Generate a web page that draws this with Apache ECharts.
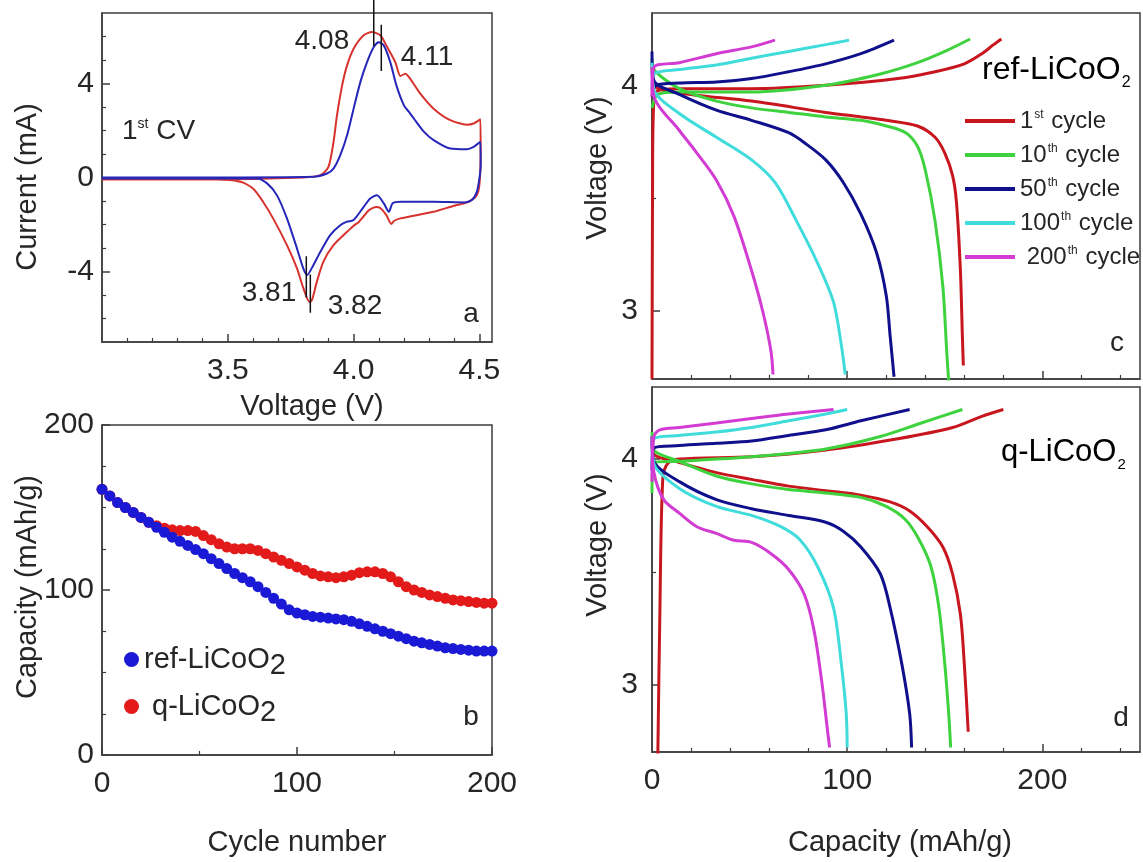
<!DOCTYPE html>
<html><head><meta charset="utf-8">
<script src="https://cdn.jsdelivr.net/npm/echarts@6/dist/echarts.min.js"></script>
<style>html,body{margin:0;padding:0;background:#fff}#chart{width:1143px;height:862px}</style>
</head><body><div id="chart"></div>
<script>
// ---------- Panel a : 1st CV ----------
const cvRefV = [3.00,3.40,3.84,3.894,3.92,3.947,3.974,4.00,4.027,4.053,4.08,4.10,4.12,4.146,4.17,4.20,4.22,4.24,4.28,4.318,4.384,4.45,4.477,4.504,
  4.505,4.50,4.49,4.47,4.44,4.318,4.186,4.155,4.14,4.12,4.093,4.066,4.04,4.00,3.974,3.947,3.907,3.868,3.84,3.815,3.80,3.775,3.735,3.695,3.656,3.616,3.00];
const cvRefI = [0,0,0.03,0.17,0.38,0.95,1.8,2.93,4.07,4.9,5.55,5.76,5.62,4.9,3.92,3.07,2.79,2.5,1.94,1.59,1.23,1.2,1.3,1.52,
  0.5,-0.04,-0.6,-0.96,-1.06,-1.03,-1.03,-1.1,-1.46,-1.1,-0.75,-0.89,-1.25,-1.81,-1.88,-2.03,-2.45,-3.16,-3.73,-4.15,-3.87,-3.02,-1.74,-0.75,-0.25,-0.04,-0.04];
const cvQV = [3.00,3.40,3.80,3.868,3.90,3.92,3.934,3.954,3.974,4.00,4.04,4.073,4.106,4.13,4.166,4.186,4.206,4.225,4.265,4.318,4.384,4.45,4.477,4.504,
  4.505,4.50,4.49,4.47,4.44,4.40,4.318,4.186,4.16,4.15,4.13,4.106,4.09,4.06,4.04,4.02,4.00,3.974,3.92,3.88,3.854,3.835,3.825,3.80,3.775,3.735,3.68,3.64,3.60,3.55,3.457,3.00];
const cvQI = [-0.08,-0.08,0,0.1,0.45,1.5,2.65,3.9,4.77,5.48,6.05,6.19,6.05,5.62,4.9,4.32,4.42,4.2,3.57,2.93,2.44,2.25,2.3,2.48,
  1.0,-0.3,-0.75,-0.95,-1.1,-1.2,-1.46,-1.74,-1.85,-1.98,-1.6,-1.3,-1.25,-1.4,-1.65,-1.9,-2.05,-2.31,-2.88,-3.58,-4.43,-5.2,-5.3,-4.7,-3.87,-2.88,-1.74,-1.03,-0.47,-0.18,-0.08,-0.08];
const peakMarkV = [4.08, 4.11, 3.812, 3.828];
const peakMarkTop = [7.55, 6.5, -3.35, -4.13];
const peakMarkBottom = [5.6, 4.53, -5.11, -5.75];

// ---------- Panel b : capacity vs cycle ----------
const cycles = [0,4,8,12,16,20,24,28,32,36,40,44,48,52,56,60,64,68,72,76,80,84,88,92,96,100,104,108,112,116,120,124,128,132,136,140,144,148,152,156,160,164,168,172,176,180,184,188,192,196,200];
const capRef = [161,157,153,150,147,144,141,138,135,132,129.5,127,124.5,122,119,116,113,110,107.5,105,102,98.5,95,91.5,88,86,85,84,83.5,83,82.5,82,81,79.5,78,76.5,75,73.5,72,70.5,69,68,67,66,65,64.5,64,63.5,63,63,63];
const capQ = [161,157,153,150,147,144,141,139,137.5,136.5,136,136,135.5,133,130.5,128,126,125,125,125,124,122,120,118,116,114,112,110,108.5,108,107.5,108,109,110.5,111,111,110,108,105,102,100,98.5,97,96,95,94,93.5,93,92.5,92,92];

// ---------- Panels c, d : charge / discharge [capacity, voltage] ----------
const cycleNames = ['1st cycle','10th cycle','50th cycle','100th cycle','200th cycle'];
const refChg1 = [[0,2.70],[0.3,3.60],[0.6,3.85],[2,3.97],[14,3.985],[51,3.985],[89,4.0],[126,4.03],[145,4.06],[160,4.095],[169,4.14],[175,4.18],[179,4.205]];
const refDis1 = [[0,4.10],[1,4.0],[14,3.966],[51,3.93],[89,3.88],[107,3.86],[120,3.845],[136,3.82],[145,3.77],[150,3.70],[154,3.60],[156,3.48],[158,3.18],[159,2.89],[159.5,2.76]];
const refChg10 = [[0,3.90],[3,3.96],[14,3.97],[51,3.97],[89,4.0],[117,4.05],[136,4.1],[150,4.15],[163,4.205]];
const refDis10 = [[0,4.12],[1,4.07],[14,3.985],[33,3.93],[51,3.90],[70,3.88],[89,3.86],[107,3.845],[120,3.82],[130,3.79],[136,3.73],[140,3.625],[145,3.40],[149,3.11],[151,2.82],[152,2.69]];
const refChg50 = [[0,3.95],[2,4.0],[14,4.01],[33,4.015],[51,4.03],[70,4.06],[89,4.095],[107,4.14],[124,4.2]];
const refDis50 = [[0,4.15],[1,4.02],[14,3.96],[33,3.89],[51,3.845],[70,3.79],[79,3.74],[89,3.67],[98,3.57],[107,3.43],[115,3.26],[120,3.07],[122,2.89],[124,2.71]];
const refChg100 = [[0,3.98],[1,4.05],[14,4.07],[33,4.09],[51,4.12],[70,4.15],[89,4.18],[101,4.2]];
const refDis100 = [[0,4.10],[1,3.98],[14,3.875],[33,3.77],[51,3.67],[63,3.57],[74,3.40],[85,3.21],[93,3.04],[97,2.85],[99,2.72]];
const refChg200 = [[0,3.95],[1,4.08],[14,4.10],[33,4.14],[51,4.17],[63,4.2]];
const refDis200 = [[0,4.08],[1,3.95],[14,3.80],[23,3.70],[33,3.58],[42,3.42],[51,3.18],[57,2.99],[61,2.82],[62,2.72]];

const qChg1 = [[3,2.69],[4,3.30],[5.5,3.91],[8,3.98],[14,4.0],[51,4.01],[89,4.04],[126,4.09],[154,4.14],[169,4.19],[180,4.22]];
const qDis1 = [[0,4.08],[1,4.02],[14,3.985],[33,3.94],[51,3.91],[70,3.88],[89,3.86],[107,3.84],[122,3.81],[132,3.77],[141,3.70],[149,3.61],[154,3.49],[158,3.31],[160,3.09],[162,2.79]];
const qChg10 = [[0,3.85],[1,3.985],[14,3.99],[51,4.01],[89,4.045],[117,4.10],[138,4.16],[159,4.22]];
const qDis10 = [[0,4.12],[1,4.04],[14,3.99],[33,3.925],[51,3.89],[70,3.865],[89,3.85],[107,3.83],[120,3.79],[130,3.73],[137,3.64],[143,3.52],[147,3.34],[150,3.09],[152,2.87],[153,2.72]];
const qChg50 = [[0,3.95],[1,4.05],[14,4.06],[33,4.07],[51,4.08],[70,4.105],[89,4.13],[107,4.17],[132,4.22]];
const qDis50 = [[0,4.10],[1,3.99],[14,3.90],[33,3.82],[51,3.78],[70,3.75],[89,3.72],[98,3.68],[107,3.61],[117,3.49],[122,3.34],[128,3.09],[132,2.87],[133,2.72]];
const qChg100 = [[0,3.98],[1,4.09],[14,4.105],[33,4.12],[51,4.14],[70,4.17],[89,4.2],[100,4.22]];
const qDis100 = [[0,4.10],[1,3.98],[14,3.87],[33,3.79],[51,3.75],[66,3.70],[76,3.64],[85,3.52],[93,3.34],[97,3.09],[99.5,2.87],[100,2.72]];
const qChg200 = [[0,3.90],[1,4.1],[4,4.13],[14,4.14],[33,4.16],[51,4.18],[70,4.2],[93,4.22]];
const qDis200 = [[0,4.10],[1,3.94],[6,3.82],[14,3.76],[23,3.70],[33,3.67],[42,3.64],[51,3.63],[61,3.58],[70,3.51],[78,3.40],[83,3.24],[87,3.01],[90,2.79],[91,2.72]];

// ---------- Tick values ----------
const aXLabels = [3.5, 4.0, 4.5];
const aXMinor = [3.1,3.2,3.3,3.4,3.6,3.7,3.8,3.9,4.1,4.2,4.3,4.4];
const aYLabels = [-4, 0, 4];
const aYMinor = [-6,-5,-3,-2,-1,1,2,3,5,6];
const bLabels = [0, 100, 200];
const bXMinor = [50, 150];
const bYMinor = [25, 50, 75, 125, 150, 175];
const cdXLabels = [0, 100, 200];
const cdXMinor = [20,40,60,80,120,140,160,180,220,240];
const cdYLabels = [3, 4];
const cdYMinor = [3.5];

// ---------- Chart ----------
const FONT = "'Liberation Sans', Arial, sans-serif";
const TXT = '#262626';
const AX = '#3c3c3c';
const cycleColors = ['#c8161e', '#3ed23e', '#10108c', '#40dcdc', '#d23cd2'];

const grids = [
  {left: 102, top: 13, width: 390, height: 329},
  {left: 102, top: 425, width: 390, height: 330},
  {left: 652, top: 13, width: 488, height: 366},
  {left: 652, top: 387, width: 488, height: 365}
].map(g => Object.assign({show: true, borderColor: AX, borderWidth: 1.5, backgroundColor: 'transparent'}, g));

function axisMain(grid, pos, min, max, labels, ticks, showLabels, fmt, margin) {
  return {
    type: 'value', gridIndex: grid, position: pos, min, max,
    axisLine: {show: true, onZero: false, lineStyle: {color: AX, width: 1.5}},
    splitLine: {show: false},
    axisTick: {show: true, inside: true, length: 8, customValues: ticks, lineStyle: {color: AX, width: 1.5}},
    axisLabel: {show: showLabels, customValues: labels, fontFamily: FONT, fontSize: 30, color: TXT, margin: margin,
      formatter: fmt || (v => String(v)), showMinLabel: true, showMaxLabel: true}
  };
}
function axisMinor(grid, pos, min, max, ticks) {
  return {
    type: 'value', gridIndex: grid, position: pos, offset: 0, min, max,
    axisLine: {show: false, onZero: false}, splitLine: {show: false},
    axisTick: {show: true, inside: true, length: 4, customValues: ticks, lineStyle: {color: AX, width: 1.2}},
    axisLabel: {show: false, customValues: ticks}
  };
}

const xAxes = [
  axisMain(0, 'bottom', 3.0, 4.55, aXLabels, aXLabels, true, v => v.toFixed(1), 14),
  axisMinor(0, 'bottom', 3.0, 4.55, aXMinor),
  axisMain(1, 'bottom', 0, 200, bLabels, bLabels, true, null, 14),
  axisMinor(1, 'bottom', 0, 200, bXMinor),
  axisMain(2, 'bottom', 0, 250, cdXLabels, [100, 200], false, null, 14),
  axisMinor(2, 'bottom', 0, 250, cdXMinor),
  axisMain(3, 'bottom', 0, 250, cdXLabels, [100, 200], true, null, 14),
  axisMinor(3, 'bottom', 0, 250, cdXMinor)
];
const yAxes = [
  axisMain(0, 'left', -7, 7, aYLabels, aYLabels, true, null, 8),
  axisMinor(0, 'left', -7, 7, aYMinor),
  axisMain(1, 'left', 0, 200, bLabels, bLabels, true, null, 8),
  axisMinor(1, 'left', 0, 200, bYMinor),
  axisMain(2, 'left', 2.7, 4.32, cdYLabels, cdYLabels, true, null, 14),
  axisMinor(2, 'left', 2.7, 4.32, cdYMinor),
  axisMain(3, 'left', 2.7, 4.32, cdYLabels, cdYLabels, true, null, 14),
  axisMinor(3, 'left', 2.7, 4.32, cdYMinor)
];

const zip = (a, b) => a.map((v, i) => [v, b[i]]);
const series = [];
// panel a
series.push({type: 'line', name: 'CV q', xAxisIndex: 0, yAxisIndex: 0, data: zip(cvQV, cvQI), showSymbol: false, smooth: 0.25,
  lineStyle: {color: '#d8322e', width: 2}, itemStyle: {color: '#d8322e'}, z: 3});
series.push({type: 'line', name: 'CV ref', xAxisIndex: 0, yAxisIndex: 0, data: zip(cvRefV, cvRefI), showSymbol: false, smooth: 0.25,
  lineStyle: {color: '#2626b8', width: 2}, itemStyle: {color: '#2626b8'}, z: 4});
peakMarkV.forEach((v, i) => {
  series.push({type: 'line', name: 'mark' + i, xAxisIndex: 0, yAxisIndex: 0, clip: false, showSymbol: false,
    data: [[v, peakMarkTop[i]], [v, peakMarkBottom[i]]], lineStyle: {color: '#111', width: 1.5}, itemStyle: {color: '#111'}, z: 6});
});
// panel b
series.push({type: 'scatter', name: 'q-LiCoO2', xAxisIndex: 2, yAxisIndex: 2, data: zip(cycles, capQ), symbolSize: 11,
  itemStyle: {color: '#e31a1a', opacity: 1}, clip: false});
series.push({type: 'scatter', name: 'ref-LiCoO2', xAxisIndex: 2, yAxisIndex: 2, data: zip(cycles, capRef), symbolSize: 11,
  itemStyle: {color: '#1a1ad6', opacity: 1}, clip: false});
// panels c, d
const refCurves = [[refChg1, refDis1], [refChg10, refDis10], [refChg50, refDis50], [refChg100, refDis100], [refChg200, refDis200]];
const qCurves = [[qChg1, qDis1], [qChg10, qDis10], [qChg50, qDis50], [qChg100, qDis100], [qChg200, qDis200]];
[[refCurves, 4], [qCurves, 6]].forEach(([set, ax]) => {
  set.forEach((pair, k) => {
    pair.forEach(curve => {
      series.push({type: 'line', name: cycleNames[k], xAxisIndex: ax, yAxisIndex: ax, data: curve, showSymbol: false, smooth: 0.3,
        lineStyle: {color: cycleColors[k], width: 3}, itemStyle: {color: cycleColors[k]}, z: 3 + k});
    });
  });
});

const supRich = {
  n: {fontFamily: FONT, fontSize: 24, color: TXT, verticalAlign: 'middle'},
  sup: {fontFamily: FONT, fontSize: 12, color: TXT, verticalAlign: 'top', padding: [0, 1, 0, 1]}
};
const legendLabels = {'1st cycle': '{n|1}{sup|st}{n| cycle}', '10th cycle': '{n|10}{sup|th}{n| cycle}',
  '50th cycle': '{n|50}{sup|th}{n| cycle}', '100th cycle': '{n|100}{sup|th}{n| cycle}', '200th cycle': '{n| 200}{sup|th}{n| cycle}'};

function gtext(x, y, text, size, opt) {
  return Object.assign({type: 'text', x, y, silent: true, z: 100,
    style: Object.assign({text, fontFamily: FONT, fontSize: size, fill: TXT, align: 'center', verticalAlign: 'middle'}, (opt && opt.style) || {})},
    opt ? {rotation: opt.rotation || 0} : {});
}

const graphics = [
  gtext(322, 41, '4.08', 28), gtext(427, 57, '4.11', 28),
  gtext(269, 293, '3.81', 28), gtext(355, 306, '3.82', 28),
  gtext(471, 314, 'a', 28), gtext(471, 717, 'b', 28), gtext(1117, 343, 'c', 28), gtext(1121, 718, 'd', 28),
  {type: 'text', x: 122, y: 131, z: 100, silent: true, style: {text: '{n|1}{s|st}{n| CV}', align: 'left', verticalAlign: 'middle',
    rich: {n: {fontFamily: FONT, fontSize: 28, fill: TXT, color: TXT, verticalAlign: 'middle'}, s: {fontFamily: FONT, fontSize: 14, color: TXT, fill: TXT, verticalAlign: 'top'}}}},
  {type: 'text', x: 982, y: 70, z: 100, silent: true, style: {text: '{n|ref-LiCoO}{s|2}', align: 'left', verticalAlign: 'middle',
    rich: {n: {fontFamily: FONT, fontSize: 32, color: TXT, verticalAlign: 'middle'}, s: {fontFamily: FONT, fontSize: 16, color: TXT, verticalAlign: 'bottom', padding: [26, 0, 0, 1]}}}},
  {type: 'text', x: 1001, y: 452, z: 100, silent: true, style: {text: '{n|q-LiCoO}{s|2}', align: 'left', verticalAlign: 'middle',
    rich: {n: {fontFamily: FONT, fontSize: 31, color: TXT, verticalAlign: 'middle'}, s: {fontFamily: FONT, fontSize: 15, color: TXT, verticalAlign: 'bottom', padding: [26, 0, 0, 1]}}}},
  gtext(312, 407, 'Voltage (V)', 29),
  gtext(297, 843, 'Cycle number', 29),
  gtext(900, 843, 'Capacity (mAh/g)', 29),
  gtext(28, 187, 'Current (mA)', 29, {rotation: Math.PI / 2}),
  gtext(28, 587, 'Capacity (mAh/g)', 29, {rotation: Math.PI / 2}),
  gtext(598, 168, 'Voltage (V)', 29, {rotation: Math.PI / 2}),
  gtext(598, 545, 'Voltage (V)', 29, {rotation: Math.PI / 2})
];

const option = {
  backgroundColor: '#fff',
  animation: false,
  grid: grids,
  xAxis: xAxes,
  yAxis: yAxes,
  legend: [
    {data: cycleNames, orient: 'vertical', left: 960, top: 104, itemGap: 10, itemWidth: 50, itemHeight: 4, icon: 'rect',
      selectedMode: false, formatter: n => legendLabels[n], textStyle: {fontFamily: FONT, fontSize: 24, color: TXT, rich: supRich}},
    {data: ['ref-LiCoO2', 'q-LiCoO2'], orient: 'vertical', left: 119, top: 640, itemGap: 12, itemWidth: 15, itemHeight: 15, icon: 'circle',
      selectedMode: false,
      formatter: n => n === 'ref-LiCoO2' ? '{n|ref-LiCoO}{s|2}' : '{n| q-LiCoO}{s|2}',
      textStyle: {fontFamily: FONT, fontSize: 29, color: TXT, rich: {
        n: {fontFamily: FONT, fontSize: 29, color: TXT, verticalAlign: 'middle'},
        s: {fontFamily: FONT, fontSize: 29, color: TXT, verticalAlign: 'bottom', padding: [12, 0, 0, 0]}}}}
  ],
  graphic: graphics,
  series
};
const chart = echarts.init(document.getElementById('chart'), null, {renderer: 'canvas'});
chart.setOption(option);
</script></body></html>
